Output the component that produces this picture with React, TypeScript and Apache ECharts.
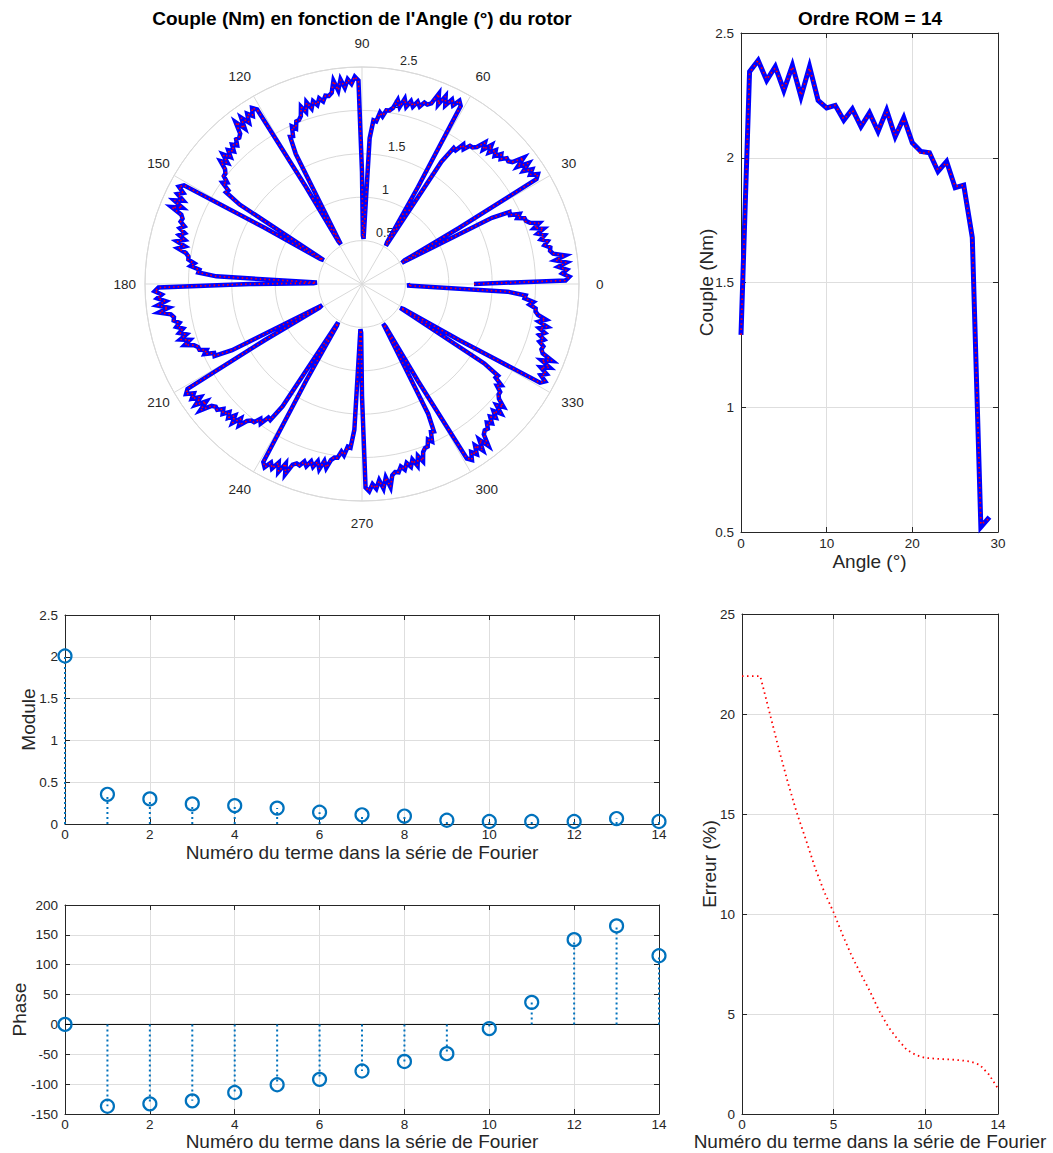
import React, { useEffect, useRef } from 'react';
import * as echarts from 'echarts';

// ---------- data ----------
const angleDeg = [0, 1, 2, 3, 4, 5, 6, 7, 8, 9, 10, 11, 12, 13, 14, 15, 16, 17, 18, 19, 20, 21, 22, 23, 24, 25, 26, 27, 28, 29];
const torque = [1.29, 2.345, 2.39, 2.31, 2.365, 2.27, 2.37, 2.245, 2.365, 2.23, 2.2, 2.21, 2.15, 2.195, 2.125, 2.18, 2.105, 2.19, 2.085, 2.16, 2.06, 2.025, 2.02, 1.945, 1.985, 1.88, 1.89, 1.68, 0.52, 0.56];
const torqueRom = [1.29, 2.34, 2.39, 2.315, 2.36, 2.275, 2.365, 2.25, 2.36, 2.235, 2.2, 2.21, 2.155, 2.19, 2.13, 2.175, 2.11, 2.185, 2.09, 2.155, 2.06, 2.015, 2.025, 1.95, 1.98, 1.885, 1.89, 1.68, 0.53, 0.555];
const periodCount = 12; // 360° / 30°

const termNumbers = [0, 1, 2, 3, 4, 5, 6, 7, 8, 9, 10, 11, 12, 13, 14];
const moduleValues = [2.01, 0.355, 0.3, 0.24, 0.22, 0.19, 0.14, 0.11, 0.095, 0.045, 0.03, 0.03, 0.03, 0.065, 0.03];
const phaseValues = [0, -137, -133, -128, -114, -101, -92, -78, -62, -49, -7, 37, 142, 165, 115];

const errorTerms = [0, 0.5, 1, 1.5, 2, 2.5, 3, 3.5, 4, 4.5, 5, 5.5, 6, 6.5, 7, 7.5, 8, 8.5, 9, 9.5, 10, 10.5, 11, 11.5, 12, 12.5, 13, 13.5, 14];
const errorValues = [21.89, 21.89, 21.89, 20.1, 18.3, 16.6, 15.05, 13.7, 12.3, 11.1, 10.1, 8.96, 7.9, 7.0, 6.13, 5.16, 4.36, 3.75, 3.22, 2.95, 2.81, 2.77, 2.74, 2.72, 2.68, 2.62, 2.46, 1.98, 1.27];

const angleTicks = [0, 30, 60, 90, 120, 150, 180, 210, 240, 270, 300, 330];

// ---------- styles ----------
const FONT = '"Liberation Sans", Arial, Helvetica, sans-serif';
const AX = '#262626';
const GRIDC = '#dedede';
const POLGRID = '#d9d9d9';
const BLUE = '#0000ff';
const RED = '#ff0000';
const STEM = '#0072BD';
const TICK_FS = 13.5;
const NAME_FS = 19;
const ANGLE_FS = 13.5;

// per-angle label padding [top, right, bottom, left] so that labels sit centred on a ring just outside the plot
const anglePad: Record<number, number[]> = {
  0: [0, 0, 0, 12],
  30: [0, 0, 3, 7],
  60: [0, 0, 8, 2.5],
  90: [0, 0, 12, 0],
  120: [0, 0, 8, 0],
  150: [0, 0, 3, 0],
  180: [0, 4, 0, 0],
  210: [0, 0, 0, 0],
  240: [6, 0, 0, 0],
  270: [10, 0, 0, 0],
  300: [6, 0, 0, 2.5],
  330: [0, 0, 0, 7],
};

function angleRich() {
  const rich: Record<string, any> = {};
  angleTicks.forEach((a) => {
    rich['a' + a] = { color: AX, fontSize: ANGLE_FS, fontFamily: FONT, padding: anglePad[a] };
  });
  return rich;
}

function boxAxes(
  gridIndex: number,
  x: { min: number; max: number; interval: number; name: string; gap: number; margin: number },
  y: { min: number; max: number; interval: number; name: string; gap: number }
) {
  const line = { show: true, onZero: false, lineStyle: { color: AX, width: 1 } };
  const tick = { show: true, inside: true, length: 5, lineStyle: { color: AX } };
  const label = { color: AX, fontSize: TICK_FS, fontFamily: FONT, lineHeight: 14 };
  const nameStyle = { color: AX, fontSize: NAME_FS, fontFamily: FONT, lineHeight: 19 };
  const xAxes = [
    {
      type: 'value', gridIndex, position: 'bottom', min: x.min, max: x.max, interval: x.interval,
      axisLine: line, axisTick: tick, axisLabel: { ...label, margin: x.margin },
      splitLine: { show: true, lineStyle: { color: GRIDC } },
      name: x.name, nameLocation: 'middle', nameGap: x.gap, nameTextStyle: nameStyle, nameMoveOverlap: false,
    },
    {
      type: 'value', gridIndex, position: 'top', min: x.min, max: x.max, interval: x.interval,
      axisLine: line, axisTick: tick, axisLabel: { show: false }, splitLine: { show: false },
    },
  ];
  const yAxes = [
    {
      type: 'value', gridIndex, position: 'left', min: y.min, max: y.max, interval: y.interval,
      axisLine: line, axisTick: tick, axisLabel: { ...label, margin: 7 },
      splitLine: { show: true, lineStyle: { color: GRIDC } },
      name: y.name, nameLocation: 'middle', nameGap: y.gap, nameRotate: 90, nameTextStyle: nameStyle, nameMoveOverlap: false,
    },
    {
      type: 'value', gridIndex, position: 'right', min: y.min, max: y.max, interval: y.interval,
      axisLine: line, axisTick: tick, axisLabel: { show: false }, splitLine: { show: false },
    },
  ];
  return { xAxes, yAxes };
}

function stemRender(_params: any, api: any) {
  const xv = api.value(0);
  const yv = api.value(1);
  const top = api.coord([xv, yv]);
  const base = api.coord([xv, 0]);
  return {
    type: 'group',
    children: [
      {
        type: 'line',
        shape: { x1: base[0], y1: base[1], x2: top[0], y2: top[1] },
        style: { stroke: STEM, lineWidth: 2, lineDash: [2, 3], fill: null },
      },
      {
        type: 'circle',
        shape: { cx: top[0], cy: top[1], r: 6.5 },
        style: { stroke: STEM, lineWidth: 2.2, fill: 'none' },
      },
    ],
  };
}

function buildOption() {
  const polarData: number[][] = [];
  const polarRom: number[][] = [];
  for (let k = 0; k < periodCount; k++) {
    for (let i = 0; i < angleDeg.length; i++) {
      polarData.push([torque[i], k * 30 + angleDeg[i]]);
      polarRom.push([torqueRom[i], k * 30 + angleDeg[i]]);
    }
  }

  const fourier = 'Numéro du terme dans la série de Fourier';
  const g0 = boxAxes(0, { min: 0, max: 30, interval: 10, name: 'Angle (°)', gap: 19.5, margin: 4 }, { min: 0.5, max: 2.5, interval: 0.5, name: 'Couple (Nm)', gap: 25 });
  const g1 = boxAxes(1, { min: 0, max: 14, interval: 2, name: fourier, gap: 18.5, margin: 3 }, { min: 0, max: 2.5, interval: 0.5, name: 'Module', gap: 27 });
  const g2 = boxAxes(2, { min: 0, max: 14, interval: 2, name: fourier, gap: 18, margin: 3 }, { min: -150, max: 200, interval: 50, name: 'Phase', gap: 36 });
  const g3 = boxAxes(3, { min: 0, max: 14, interval: 5, name: fourier, gap: 18, margin: 3 }, { min: 0, max: 25, interval: 5, name: 'Erreur (%)', gap: 23 });

  return {
    animation: false,
    backgroundColor: '#ffffff',
    textStyle: { fontFamily: FONT },
    graphic: [
      {
        type: 'text', x: 362, y: 18,
        style: { text: "Couple (Nm) en fonction de l'Angle (°) du rotor", font: `bold 19px ${FONT}`, fill: '#000', align: 'center', verticalAlign: 'middle' },
      },
      {
        type: 'text', x: 870, y: 18,
        style: { text: 'Ordre ROM = 14', font: `bold 19px ${FONT}`, fill: '#000', align: 'center', verticalAlign: 'middle' },
      },
    ],
    polar: [
      { center: [362, 284], radius: 217 },
      { center: [362, 284], radius: 217 },
    ],
    angleAxis: [
      {
        polarIndex: 0, type: 'value', min: 0, max: 360, interval: 30, startAngle: 0, clockwise: false,
        axisLine: { show: true, lineStyle: { color: POLGRID } },
        axisTick: { show: false },
        axisLabel: {
          color: AX, fontSize: ANGLE_FS, fontFamily: FONT, margin: 5,
          formatter: (v: number) => (angleTicks.indexOf(v) >= 0 ? `{a${v}|${v}}` : ''),
          rich: angleRich(),
        },
        splitLine: { show: true, lineStyle: { color: POLGRID } },
      },
      {
        polarIndex: 1, type: 'value', min: 0, max: 360, startAngle: 82, clockwise: false,
        axisLine: { show: false }, axisTick: { show: false }, axisLabel: { show: false }, splitLine: { show: false },
      },
    ],
    radiusAxis: [
      {
        polarIndex: 0, type: 'value', min: 0, max: 2.5, interval: 0.5,
        axisLine: { show: false }, axisTick: { show: false }, axisLabel: { show: false },
        splitLine: { show: true, lineStyle: { color: POLGRID } },
      },
      {
        polarIndex: 1, type: 'value', min: 0, max: 2.5, interval: 0.5,
        axisLine: { show: false }, axisTick: { show: false }, splitLine: { show: false },
        axisLabel: {
          color: AX, fontSize: 12.5, fontFamily: FONT, margin: -8, align: 'left', verticalAlign: 'bottom',
          padding: [0, 0, 3, 0],
          formatter: (v: number) => (v === 0 ? '' : String(v)),
        },
      },
    ],
    grid: [
      { left: 741, top: 33, width: 257, height: 499, outerBoundsMode: 'none' },
      { left: 65, top: 615, width: 594, height: 209, outerBoundsMode: 'none' },
      { left: 65, top: 905, width: 594, height: 209, outerBoundsMode: 'none' },
      { left: 742, top: 614, width: 256, height: 500, outerBoundsMode: 'none' },
    ],
    xAxis: [...g0.xAxes, ...g1.xAxes, ...g2.xAxes, ...g3.xAxes],
    yAxis: [...g0.yAxes, ...g1.yAxes, ...g2.yAxes, ...g3.yAxes],
    series: [
      {
        type: 'line', coordinateSystem: 'polar', polarIndex: 0, data: polarData, showSymbol: false, z: 3,
        lineStyle: { color: BLUE, width: 4.5, join: 'miter', miterLimit: 10 },
      },
      {
        type: 'line', coordinateSystem: 'polar', polarIndex: 0, data: polarRom, showSymbol: false, z: 4,
        lineStyle: { color: RED, width: 1.6, type: [1.5, 3] },
      },
      {
        type: 'line', xAxisIndex: 0, yAxisIndex: 0, data: angleDeg.map((a, i) => [a, torque[i]]), showSymbol: false, z: 3,
        lineStyle: { color: BLUE, width: 5, join: 'miter', miterLimit: 10 },
      },
      {
        type: 'line', xAxisIndex: 0, yAxisIndex: 0, data: angleDeg.map((a, i) => [a, torqueRom[i]]), showSymbol: false, z: 4,
        lineStyle: { color: RED, width: 1.8, type: [1.5, 3.5] },
      },
      {
        type: 'custom', xAxisIndex: 2, yAxisIndex: 2, data: termNumbers.map((t, i) => [t, moduleValues[i]]),
        renderItem: stemRender, encode: { x: 0, y: 1 }, clip: false, z: 5,
      },
      {
        type: 'line', xAxisIndex: 4, yAxisIndex: 4, data: [[termNumbers[0], 0], [termNumbers[termNumbers.length - 1], 0]],
        showSymbol: false, z: 3, lineStyle: { color: '#000000', width: 1 },
      },
      {
        type: 'custom', xAxisIndex: 4, yAxisIndex: 4, data: termNumbers.map((t, i) => [t, phaseValues[i]]),
        renderItem: stemRender, encode: { x: 0, y: 1 }, clip: false, z: 5,
      },
      {
        type: 'line', xAxisIndex: 6, yAxisIndex: 6, data: errorTerms.map((t, i) => [t, errorValues[i]]), showSymbol: false, z: 4,
        lineStyle: { color: RED, width: 1.8, type: [1.5, 3.5] },
      },
    ],
  };
}

export default function App() {
  const ref = useRef<HTMLDivElement>(null);
  useEffect(() => {
    if (!ref.current) return;
    const chart = echarts.init(ref.current, null, { renderer: 'svg' });
    chart.setOption(buildOption() as any);
    return () => chart.dispose();
  }, []);
  return (
    <div
      ref={ref}
      style={{ position: 'absolute', left: 0, top: 0, width: 1053, height: 1153, background: '#ffffff' }}
    />
  );
}
